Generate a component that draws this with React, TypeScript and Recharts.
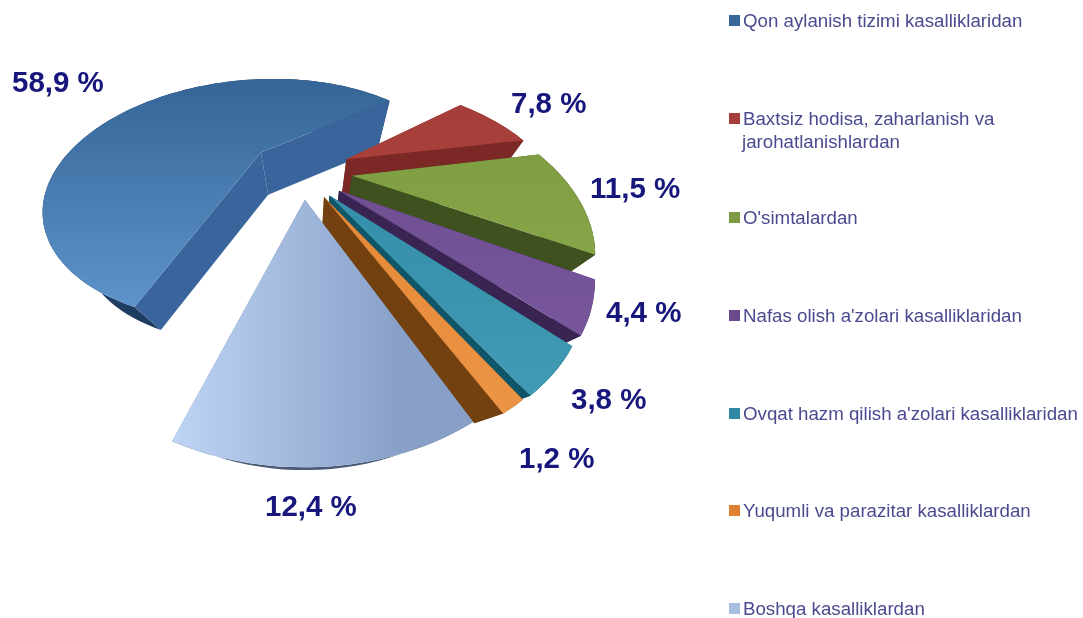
import React from "react";
import { PieChart, Pie, Legend } from "recharts";

const categories = [
  "Qon aylanish tizimi kasalliklaridan",
  "Baxtsiz hodisa, zaharlanish va|jarohatlanishlardan",
  "O'simtalardan",
  "Nafas olish a'zolari kasalliklaridan",
  "Ovqat hazm qilish a'zolari kasalliklaridan",
  "Yuqumli va parazitar kasalliklardan",
  "Boshqa kasalliklardan",
];
const shares = [58.9, 7.8, 11.5, 4.4, 3.8, 1.2, 12.4];

const legendColors = ["#376799", "#a53e3a", "#7c9a3f", "#6a4a8c", "#2f88a4", "#df812e", "#a6bfe3"];
const topFrom = ["#376799", "#a53e3a", "#7c9a3f", "#6a4a8c", "#2f88a4", "#df812e", "#bfd5f5"];
const topTo = ["#5f96cd", "#b5443f", "#8fae50", "#7b5aa0", "#419bb4", "#ec9445", "#88a0c8"];
const wallRadial = ["#3a659c", "#7c2826", "#3f511e", "#3a2552", "#0f566b", "#73410f", "#6f86aa"];
const wallArc = ["#1f3c62", "#6b2220", "#35451a", "#2e1d44", "#0c4a5c", "#623709", "#4a5a75"];
const driftX = [-0.235, 0.205, 0.22, 0.15, 0.105, 0.08, -0.005];
const driftY = [-0.16, -0.095, 0.048, 0.165, 0.2, 0.21, 0.23];
const labelAt = [
  [12, 92],
  [511, 113],
  [590, 198],
  [606, 322],
  [571, 409],
  [519, 468],
  [265, 516],
];
const legendRowTop = [8.5, 106.5, 205.5, 303.5, 401.5, 498.5, 596.5];

const PERSPECTIVE = 0.42;
const FLATTEN = 0.57;
const NADIR_X = 310;
const NADIR_Y = 490;
const DROP_X = 0.15;
const DROP_Y = 0.125;

const rad = (d: number) => (d * Math.PI) / 180;

function Slice3D(props: any) {
  const { cx, cy, outerRadius: R, startAngle, endAngle, name } = props;
  const i = categories.indexOf(name);
  const ox = driftX[i];
  const oy = driftY[i];
  const proj = (X: number, Y: number): [number, number] => {
    const w = 1 - PERSPECTIVE * Y;
    return [cx + (R * X) / w, cy + (FLATTEN * R * Y) / w];
  };
  const down = (p: [number, number]): [number, number] => [
    p[0] + DROP_X * (NADIR_X - p[0]),
    p[1] + DROP_Y * (NADIR_Y - p[1]),
  ];
  const apex = proj(ox, oy);
  const arc: [number, number][] = [];
  const steps = Math.max(2, Math.ceil(Math.abs(startAngle - endAngle) / 2));
  for (let s = 0; s <= steps; s++) {
    const a = rad(startAngle + ((endAngle - startAngle) * s) / steps);
    arc.push(proj(ox + Math.cos(a), oy - Math.sin(a)));
  }
  const path = (pts: [number, number][]) => pts.map((p) => p[0].toFixed(1) + "," + p[1].toFixed(1)).join(" ");
  const first = arc[0];
  const last = arc[arc.length - 1];
  const arcWall = [...arc, ...arc.map(down).reverse()];
  const id = "top" + i;
  const horizontal = i === 6;
  return (
    <g>
      <defs>
        <linearGradient
          id={id}
          gradientUnits="userSpaceOnUse"
          x1={horizontal ? 170 : 0}
          y1={horizontal ? 0 : i === 0 ? 90 : 100}
          x2={horizontal ? 400 : 0}
          y2={horizontal ? 0 : i === 0 ? 320 : 400}
        >
          <stop offset="0%" stopColor={topFrom[i]} />
          <stop offset="100%" stopColor={topTo[i]} />
        </linearGradient>
      </defs>
      <polygon points={path(arcWall)} fill={wallArc[i]} />
      <polygon points={path([apex, first, down(first), down(apex)])} fill={wallRadial[i]} />
      <polygon points={path([apex, last, down(last), down(apex)])} fill={wallRadial[i]} />
      <polygon points={path([apex, ...arc])} fill={"url(#" + id + ")"} />
    </g>
  );
}

function renderLabel(props: any) {
  const { index, value } = props;
  const [x, y] = labelAt[index];
  return (
    <text x={x} y={y} fontFamily="Liberation Sans" fontWeight={700} fontSize={29.5} fill="#16167c">
      {String(value).replace(".", ",") + " %"}
    </text>
  );
}

function LegendBox() {
  return (
    <div style={{ position: "relative", width: 1083, height: 618 }}>
      {categories.map((value, n) => {
        const lines = value.split("|");
        return (
          <div key={n} style={{ position: "absolute", left: 729, top: legendRowTop[n], fontFamily: "Liberation Sans", fontSize: 18.7, lineHeight: "23px", color: "#4a4a90", whiteSpace: "nowrap" }}>
            <span style={{ position: "absolute", left: 0, top: 6, width: 11, height: 11, background: legendColors[n] }} />
            {lines.map((t, k) => (
              <div key={k} style={{ marginLeft: k === 0 ? 14 : 13 }}>{t}</div>
            ))}
          </div>
        );
      })}
    </div>
  );
}

const rows = categories.map((name, i) => ({ name, value: shares[i], fill: legendColors[i] }));

export default function App() {
  return (
    <div style={{ position: "absolute", left: 0, top: 0, width: 1083, height: 618, overflow: "hidden", background: "#fff", filter: "blur(0.5px)" }}>
      <PieChart width={1083} height={618} margin={{ top: 0, right: 0, bottom: 0, left: 0 }}>
        <Pie
          data={rows}
          dataKey="value"
          nameKey="name"
          cx={306}
          cy={170}
          outerRadius={205}
          startAngle={251}
          endAngle={-109}
          stroke="none"
          isAnimationActive={false}
          shape={Slice3D}
          label={renderLabel}
          labelLine={false}
        />
        <Legend content={<LegendBox />} wrapperStyle={{ position: "absolute", left: 0, top: 0, width: 1083, height: 618, pointerEvents: "none" }} />
      </PieChart>
    </div>
  );
}
